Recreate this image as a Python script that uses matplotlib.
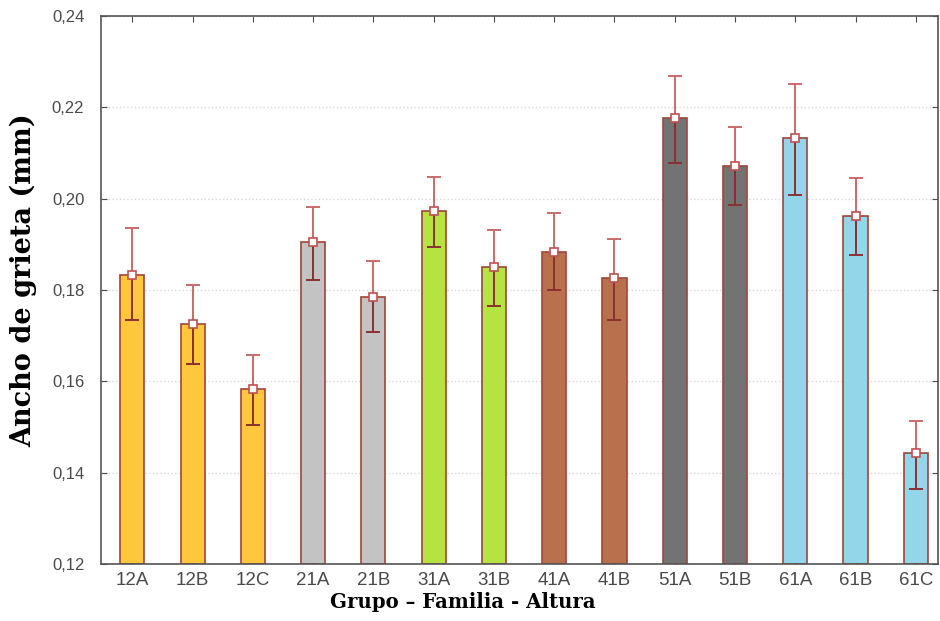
import numpy as np
import matplotlib.pyplot as plt

# data
grupos = ['12A', '12B', '12C', '21A', '21B', '31A', '31B',
          '41A', '41B', '51A', '51B', '61A', '61B', '61C']
media = [0.1833, 0.1726, 0.1583, 0.1905, 0.1785, 0.1973, 0.1850,
         0.1883, 0.1826, 0.2177, 0.2072, 0.2133, 0.1962, 0.1443]
err_inf = [0.0099, 0.0088, 0.0079, 0.0083, 0.0077, 0.0079, 0.0085,
           0.0083, 0.0092, 0.0099, 0.0086, 0.0125, 0.0085, 0.0079]
err_sup = [0.0103, 0.0085, 0.0075, 0.0077, 0.0079, 0.0074, 0.0081,
           0.0086, 0.0086, 0.0092, 0.0085, 0.0118, 0.0083, 0.0070]
colores = ['#FFC83C', '#FFC83C', '#FFC83C', '#C3C3C3', '#C3C3C3',
           '#B4E342', '#B4E342', '#B9704C', '#B9704C', '#737373',
           '#737373', '#93D6EA', '#93D6EA', '#93D6EA']
yticks = [0.12, 0.14, 0.16, 0.18, 0.20, 0.22, 0.24]

fig = plt.figure(figsize=(9.4, 6.21), dpi=100)
ax = fig.add_axes([0.1074, 0.0918, 0.8906, 0.8824])

x = np.arange(len(grupos))
media = np.array(media)
sup = media + np.array(err_sup)
inf = media - np.array(err_inf)

ax.bar(x, media - 0.12, bottom=0.12, width=0.4, color=colores,
       edgecolor='#A0453A', linewidth=1.2, zorder=2)
# error bars: upper half lighter, lower half darker (as in the original)
ax.vlines(x, media, sup, color='#C96A6A', lw=1.4, zorder=3)
ax.plot(x, sup, ls='none', marker='_', ms=10, mew=1.4, color='#C96A6A', zorder=3)
ax.vlines(x, inf, media, color='#8A3030', lw=1.4, zorder=3)
ax.plot(x, inf, ls='none', marker='_', ms=10, mew=1.4, color='#8A3030', zorder=3)
ax.plot(x, media, ls='none', marker='s', ms=6, mfc='white',
        mec='#C05050', mew=1.2, zorder=4)

ax.set_xlim(-0.52, 13.37)
ax.set_ylim(0.12, 0.24)
ax.set_yticks(yticks)
ax.set_yticklabels([f'{v:.2f}'.replace('.', ',') for v in yticks])
ax.set_xticks(x)
ax.set_xticklabels(grupos)
ax.grid(axis='y', color='#D8D8D8', linestyle=':', linewidth=1, zorder=0)
ax.tick_params(direction='in', length=4, width=0.8, colors='#4A4A4A',
               top=True, right=True)
ax.tick_params(axis='y', labelsize=12, pad=12)
ax.tick_params(axis='x', labelsize=13.5, pad=6)
for lab in ax.get_xticklabels() + ax.get_yticklabels():
    lab.set_family('Liberation Sans')
for s in ax.spines.values():
    s.set_color('#555555')
    s.set_linewidth(1.2)

ax.set_ylabel('Ancho de grieta (mm)', family='DejaVu Serif',
              fontweight='bold', fontsize=19.5)
ax.set_xlabel('Grupo – Familia - Altura', family='DejaVu Serif',
              fontweight='bold', fontsize=14.2)
ax.yaxis.set_label_coords(-0.0765, 0.518)
ax.xaxis.set_label_coords(0.4325, -0.052)

fig.savefig('out.png', dpi=100)
